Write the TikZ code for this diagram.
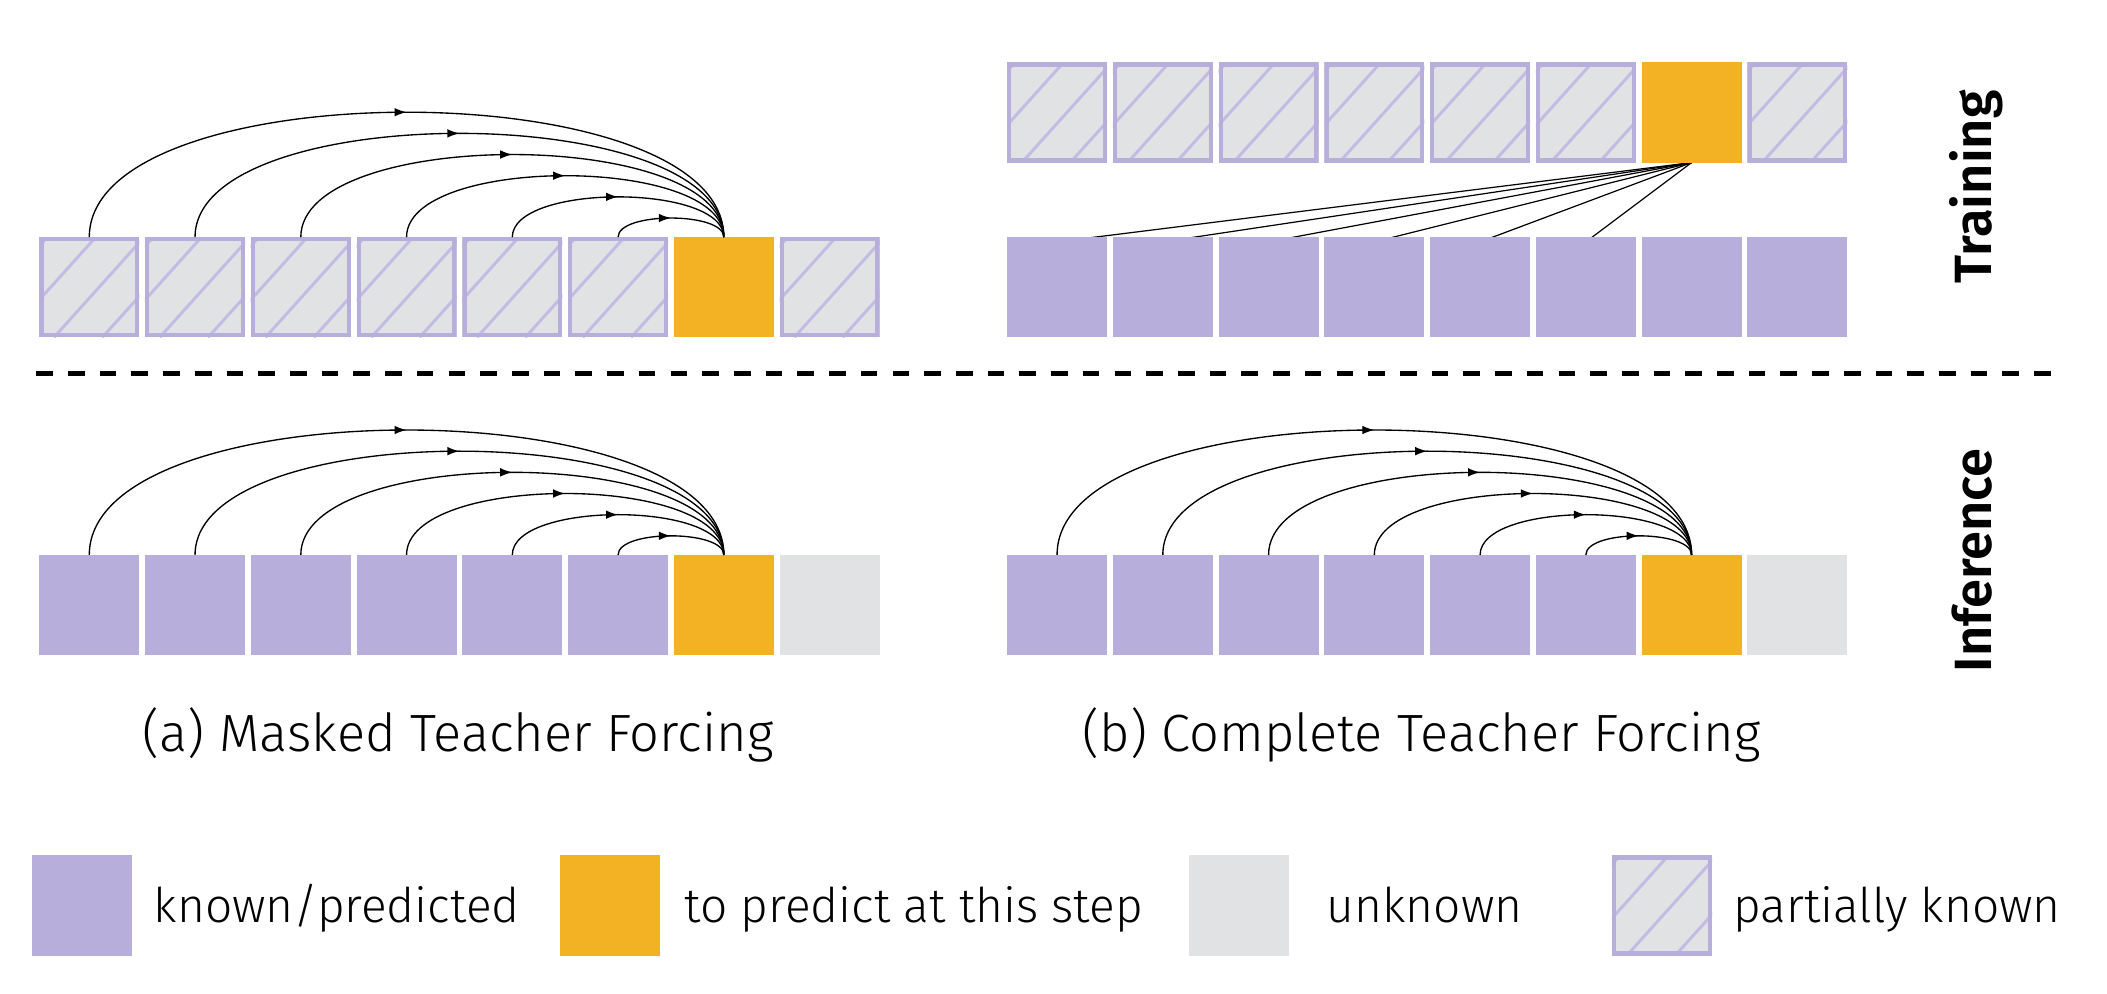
\documentclass[tikz,border=0pt]{standalone}
\usepackage{fontspec}
\setmainfont{Fira Sans}[UprightFont=* Light, BoldFont=* SemiBold]
\usetikzlibrary{calc,decorations.markings,arrows.meta,backgrounds}
\definecolor{kp}{RGB}{184,174,219}
\definecolor{orng}{RGB}{242,178,36}
\definecolor{unkc}{RGB}{225,226,228}
\definecolor{hatchc}{RGB}{196,187,229}
\tikzset{
  blk/.style={minimum width=37.25pt, minimum height=37.25pt, inner sep=0pt, outer sep=0pt, anchor=north west, draw=none},
  known/.style={blk, fill=kp},
  topred/.style={blk, fill=orng},
  unk/.style={blk, fill=unkc},
  part/.style={blk, fill=unkc, path picture={
    \foreach \k in {-3,...,2}{
      \draw[hatchc, line width=1.1pt] ($(path picture bounding box.south west)+(\k*18pt+5.5pt,0pt)$) -- +(45pt,50pt);
    }
    \draw[kp, line width=1.6pt] ($(path picture bounding box.south west)+(0.8pt,0.8pt)$) rectangle ($(path picture bounding box.north east)+(-0.8pt,-0.8pt)$);
  }},
  arcline/.style={line width=0.5pt, postaction={decorate},
    decoration={markings, mark=at position 0.5 with {\arrow{Latex[length=4.5pt,width=3.2pt]}}}},
  tline/.style={line width=0.45pt},
  legtext/.style={font=\fontsize{17.8}{20}\selectfont, anchor=base west, inner sep=0pt},
  captext/.style={font=\fontsize{19.5}{21}\selectfont, anchor=base, inner sep=0pt},
  sidetext/.style={font=\fontsize{19.5}{21}\selectfont\bfseries, rotate=90, anchor=base, inner sep=0pt},
  sep/.style={line width=1.7pt, dash pattern=on 6.2pt off 5.6pt}
}
\newcommand{\arcto}[3]{\draw[arcline] (#1.north) .. controls ($(#1.north)+(0,-#3)$) and ($(#2.north)+(0,-#3)$) .. (#2.north);}
\begin{document}
\begin{tikzpicture}[x=0.5pt,y=-0.5pt]
\useasboundingbox (0,0) rectangle (1568,739);
% (a) training row
\foreach \i in {0,...,5} \node[part] (ta\i) at (29.2+78.7*\i,176.5) {};
\node[topred] (ta6) at (29.2+78.7*6,176.5) {};
\node[part] (ta7) at (29.2+78.7*7,176.5) {};
% (b) training top row
\foreach \i in {0,...,5} \node[part] (tb\i) at (749.4+78.7*\i,46.5) {};
\node[topred] (tb6) at (749.4+78.7*6,46.5) {};
\node[part] (tb7) at (749.4+78.7*7,46.5) {};
% (b) training bottom row
\foreach \i in {0,...,7} \node[known] (bb\i) at (749.4+78.7*\i,176.5) {};
% (a) inference row
\foreach \i in {0,...,5} \node[known] (ia\i) at (29.2+78.7*\i,413) {};
\node[topred] (ia6) at (29.2+78.7*6,413) {};
\node[unk] (ia7) at (29.2+78.7*7,413) {};
% (b) inference row
\foreach \i in {0,...,5} \node[known] (ib\i) at (749.4+78.7*\i,413) {};
\node[topred] (ib6) at (749.4+78.7*6,413) {};
\node[unk] (ib7) at (749.4+78.7*7,413) {};
% training (b) lines
\begin{scope}[on background layer]
\foreach \i in {0,...,5} \draw[tline] (tb6.south) -- ($(bb\i.north)+(0,3.5)$);
\end{scope}
% arcs
\foreach \r in {ta,ia,ib}{
  \arcto{\r0}{\r6}{124}
  \arcto{\r1}{\r6}{103}
  \arcto{\r2}{\r6}{82}
  \arcto{\r3}{\r6}{61}
  \arcto{\r4}{\r6}{40}
  \arcto{\r5}{\r6}{19}
}
% separator
\coordinate (s1) at (27,278);
\coordinate (s2) at (1534,278);
\draw[sep] (s1) -- (s2);
% side labels
\node[sidetext] (train) at (1482,139) {Training};
\node[sidetext] (infer) at (1482,417) {Inference};
% captions
\node[captext] (capa) at (341,559) {(a) Masked Teacher Forcing};
\node[captext] (capb) at (1058,559) {(b) Complete Teacher Forcing};
% legend
\node[known] (l1) at (23.6,636.6) {};
\node[topred] (l2) at (417,636.6) {};
\node[unk] (l3) at (884.6,636.6) {};
\node[part] (l4) at (1199.6,636.6) {};
\node[legtext] (lt1) at (114,686.5) {known/predicted};
\node[legtext] (lt2) at (509,686.5) {to predict at this step};
\node[legtext] (lt3) at (987,686.5) {unknown};
\node[legtext] (lt4) at (1289.5,686.5) {partially known};
\end{tikzpicture}
\end{document}
